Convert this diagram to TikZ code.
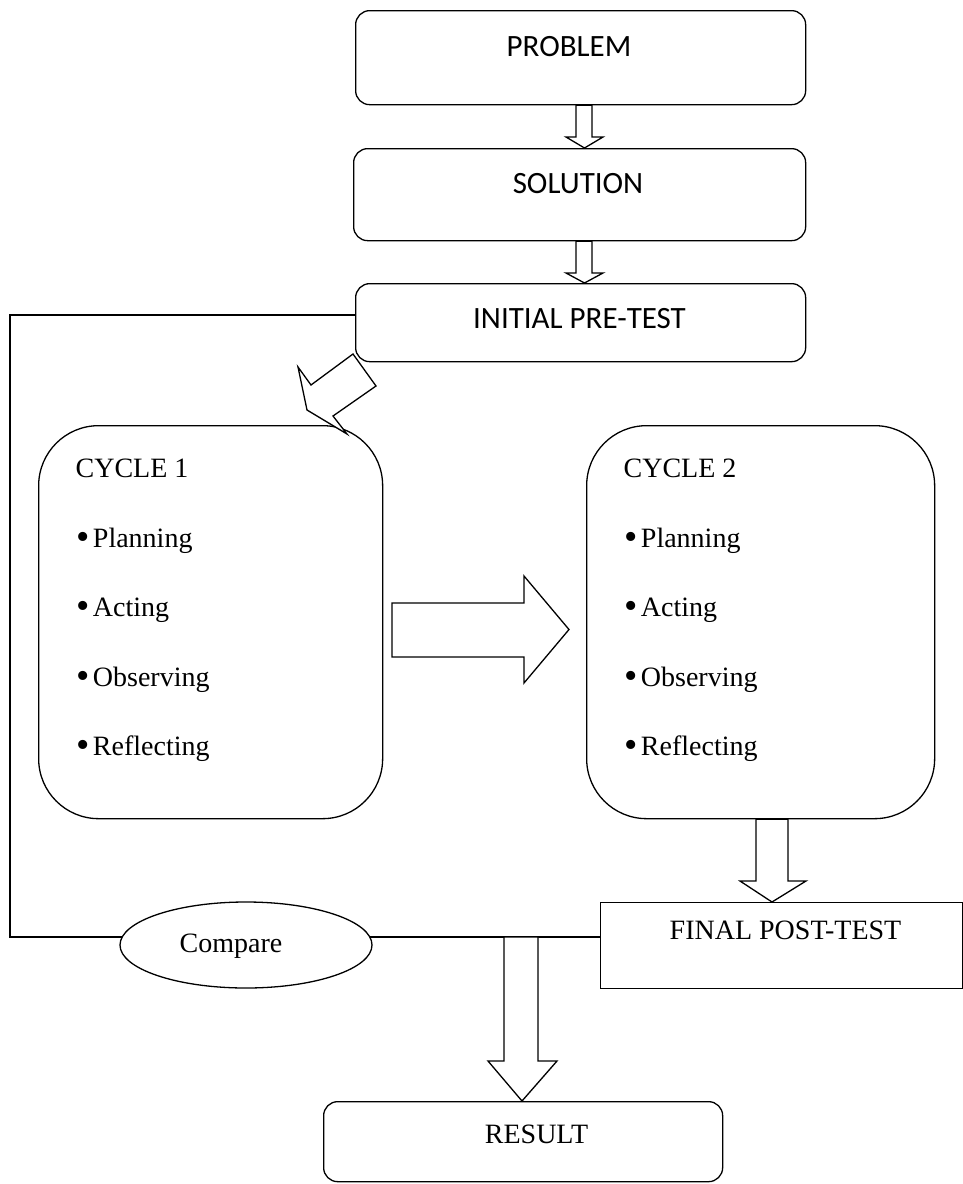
\documentclass[tikz,border=0pt]{standalone}
\usepackage{fontspec}
\setmainfont{Liberation Serif}
\newfontfamily\calfont{Carlito}
\usetikzlibrary{shapes.geometric}
\newcommand\blkdown[8]{% #1 top ref, #2 tip ref, #3 xc, #4 shaft left, #5 shaft right, #6 head left, #7 head right, #8 head base y
  \draw[blk] (#1 -| #4,0) -- (#4,#8) -- (#6,#8) -- (#2 -| #3,0) -- (#7,#8) -- (#5,#8) -- (#1 -| #5,0) -- cycle;}
\newcommand\bul{\raisebox{-2.5pt}{\fontsize{38}{38}\selectfont •}\hspace{3pt}}
\begin{document}
\begin{tikzpicture}[x=1pt,y=-1pt,line width=1.3pt,
  box/.style={draw,rounded corners=14pt,inner sep=0pt,anchor=north west},
  cyc/.style={draw,rounded corners=60pt,inner sep=0pt,anchor=north west},
  sq/.style={draw,inner sep=0pt,anchor=north west},
  blk/.style={draw,fill=white,line join=miter},
  conn/.style={draw,line width=1.1pt},
  sans/.style={font=\calfont\fontsize{31}{36}\selectfont,anchor=base,inner sep=0pt},
  serifc/.style={font=\fontsize{28}{33}\selectfont,anchor=base,inner sep=0pt},
  serifw/.style={font=\fontsize{28}{33}\selectfont,anchor=base west,inner sep=0pt}]
\useasboundingbox (0,0) rectangle (963,1184);
% boxes
\node[box,minimum width=450pt,minimum height=94pt] (prob) at (355,10) {};
\node[box,minimum width=452pt,minimum height=92pt] (sol) at (353,148) {};
\node[box,minimum width=450pt,minimum height=78pt] (pre) at (355,283) {};
\node[cyc,minimum width=344pt,minimum height=393pt] (c1) at (38,425) {};
\node[cyc,minimum width=348pt,minimum height=393pt] (c2) at (586,425) {};
\node[sq,minimum width=362pt,minimum height=86pt] (fin) at (600,902) {};
\node[box,minimum width=399pt,minimum height=80pt] (res) at (323,1101) {};
% feedback line
\coordinate (lt) at (10,315);
\coordinate (lb) at (10,937);
\draw[conn] (pre.west |- lt) -- (lt) -- (lb) -- (122,937);
\node[draw,ellipse,minimum width=252pt,minimum height=86pt,inner sep=0pt] (cmp) at (246,945) {};
\draw[conn] (370,937) -- (fin.west |- lb);
% texts
\node[sans] (tprob) at (569,56) {PROBLEM};
\node[sans] (tsol) at (578,193) {SOLUTION};
\node[sans] (tpre) at (579.5,328) {INITIAL PRE-TEST};
\node[serifw] (tc1) at (75,477) {CYCLE 1};
\node[serifw] (p1) at (76,547) {\bul Planning};
\node[serifw] (a1) at (76,616) {\bul Acting};
\node[serifw] (o1) at (76,686) {\bul Observing};
\node[serifw] (r1) at (76,755) {\bul Reflecting};
\node[serifw] (tc2) at (623,477) {CYCLE 2};
\node[serifw] (p2) at (624,547) {\bul Planning};
\node[serifw] (a2) at (624,616) {\bul Acting};
\node[serifw] (o2) at (624,686) {\bul Observing};
\node[serifw] (r2) at (624,755) {\bul Reflecting};
\node[serifc] (tcmp) at (231,952) {Compare};
\node[serifc] (tfin) at (785.5,939) {FINAL POST-TEST};
\node[serifc] (tres) at (536.5,1143) {RESULT};
% block arrows
\blkdown{prob.south}{sol.north}{584.5}{576}{592}{566}{603}{137}
\blkdown{sol.south}{pre.north}{584.5}{576}{592}{566}{603}{273}
\blkdown{c2.south}{fin.north}{772}{756}{788}{740}{806}{881}
\blkdown{lb}{res.north}{522}{504}{538}{488}{557}{1061}
\draw[blk] (392,603) -- (524,603) -- (524,576) -- (569,629.5) -- (524,683) -- (524,657) -- (392,657) -- cycle;
\draw[blk] (353,354) -- (311,385) -- (298,367) -- (307,410) -- (347,434) -- (333,416) -- (376,386) -- cycle;
\end{tikzpicture}
\end{document}
